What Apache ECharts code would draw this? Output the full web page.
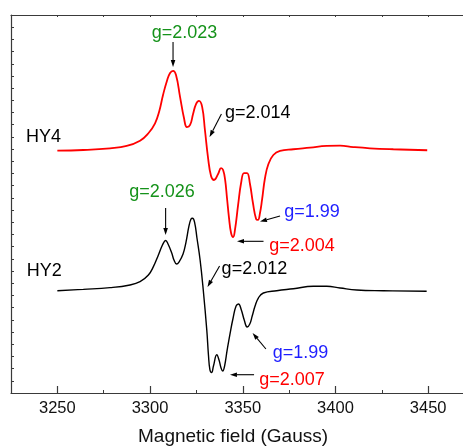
<!DOCTYPE html>
<html>
<head>
<meta charset="utf-8">
<script src="https://cdn.jsdelivr.net/npm/echarts@6/dist/echarts.min.js"></script>
<style>
  html, body { margin: 0; padding: 0; background: #fff; }
  #main { width: 463px; height: 446px; }
</style>
</head>
<body>
<div id="main"></div>
<script>
// magnetic field (Gauss) and intensity (a.u., offset)
var hy4Field = [3250.0, 3264.0, 3278.4, 3287.4, 3294.6, 3299.1, 3302.7, 3305.0, 3307.0, 3309.1,
  3310.8, 3312.4, 3314.0, 3316.2, 3318.3, 3319.9, 3321.6, 3323.2, 3324.8, 3326.4,
  3328.1, 3329.6, 3331.3, 3332.9, 3334.5, 3336.7, 3338.3, 3339.4, 3340.5, 3341.5,
  3342.6, 3343.7, 3344.8, 3345.8, 3347.5, 3349.1, 3350.7, 3352.3, 3353.9, 3355.5,
  3357.2, 3358.2, 3359.3, 3360.4, 3362.0, 3363.8, 3366.5, 3370.1, 3377.3, 3386.3,
  3395.3, 3402.5, 3409.6, 3418.6, 3431.2, 3449.5];
var hy4Signal = [19.87, 19.93, 20.07, 20.26, 20.69, 21.30, 22.12, 23.13, 24.44, 25.59,
  26.24, 26.41, 26.08, 24.27, 22.55, 21.81, 21.98, 22.88, 23.70, 23.95,
  23.46, 21.57, 19.27, 17.80, 17.47, 17.96, 18.45, 18.29, 17.47, 15.99,
  14.35, 13.12, 12.79, 13.37, 15.42, 17.22, 18.04, 18.04, 17.14, 15.58,
  14.27, 14.19, 14.76, 15.83, 17.63, 18.76, 19.52, 19.85, 19.99, 20.12,
  20.26, 20.28, 20.17, 20.07, 19.99, 19.91];

var hy2Field = [3250.0, 3264.0, 3278.4, 3289.2, 3294.6, 3299.1, 3301.8, 3304.5, 3306.2, 3307.5,
  3308.4, 3309.7, 3311.7, 3312.9, 3314.3, 3315.6, 3317.8, 3319.4, 3321.0, 3322.1,
  3322.9, 3324.0, 3325.3, 3327.0, 3328.7, 3330.6, 3331.5, 3332.3, 3333.2, 3334.2,
  3336.0, 3337.2, 3338.3, 3339.2, 3340.2, 3341.6, 3343.2, 3344.8, 3346.4, 3347.7,
  3349.2, 3350.8, 3352.4, 3353.8, 3355.1, 3356.6, 3358.4, 3361.1, 3368.3, 3377.3,
  3388.1, 3395.3, 3402.5, 3411.5, 3425.8, 3449.2];
var hy2Signal = [8.39, 8.50, 8.64, 8.86, 9.13, 9.68, 10.36, 11.32, 11.97, 12.38,
  12.51, 12.22, 11.48, 10.91, 10.58, 10.74, 11.40, 12.38, 13.70, 14.27,
  14.33, 14.02, 12.71, 10.91, 8.45, 5.17, 3.12, 1.89, 1.68, 2.21,
  3.14, 2.71, 2.05, 1.80, 2.21, 3.53, 4.92, 6.15, 7.13, 7.30,
  6.83, 5.99, 5.41, 5.66, 6.31, 7.11, 7.79, 8.20, 8.39, 8.55,
  8.75, 8.75, 8.61, 8.45, 8.39, 8.34];

var xTickLabels = [3250, 3300, 3350, 3400, 3450];

// annotations: text, colour, text anchor (left edge, middle) and arrow tail -> head
var noteText  = ['g=2.023', 'g=2.014', 'g=2.026', 'g=2.012', 'g=1.99', 'g=2.004', 'g=1.99', 'g=2.007', 'HY4', 'HY2'];
var noteColor = ['#15921a', '#000000', '#15921a', '#000000', '#1e1eff', '#ff0000', '#1e1eff', '#ff0000', '#000000', '#000000'];
var noteAt    = [[3300.9, 29.52], [3340.4, 22.94], [3288.8, 16.51], [3338.6, 10.14], [3372.4, 14.87],
                 [3364.3, 12.03], [3366.2, 3.28], [3358.9, 1.09], [3233.1, 21.02], [3233.5, 10.03]];
var arrowFrom = [[3312.4, 28.79], [3338.5, 22.88], [3308.4, 15.17], [3337.5, 10.42], [3370.1, 14.52],
                 [3361.2, 12.44], [3362.5, 3.61], [3356.1, 1.50]];
var arrowTo   = [[3312.4, 26.74], [3332.1, 20.99], [3308.4, 12.96], [3331.0, 8.69], [3359.3, 14.06],
                 [3346.9, 12.44], [3355.3, 4.92], [3343.1, 1.50]];

function pairs(xs, ys) {
  var out = [];
  for (var i = 0; i < xs.length; i++) out.push([xs[i], ys[i]]);
  return out;
}

var myChart = echarts.init(document.getElementById('main'));
var axisColor = '#3a3a3a';
var font = 'Liberation Sans, Arial, sans-serif';

var noteData = noteText.map(function (t, i) { return [noteAt[i][0], noteAt[i][1], i]; });
var arrowData = arrowFrom.map(function (p, i) { return [p[0], p[1], arrowTo[i][0], arrowTo[i][1]]; });

var option = {
  animation: false,
  grid: { left: 11, top: 15, width: 463.5, height: 378, outerBoundsMode: 'none', containLabel: false },
  xAxis: [
    {
      type: 'value', min: 3225, max: 3475, interval: 25, position: 'bottom',
      axisLine: { lineStyle: { color: axisColor, width: 1.2 } },
      axisTick: { inside: true, length: 3, lineStyle: { color: axisColor } },
      axisLabel: { show: false },
      splitLine: { show: false }
    },
    {
      type: 'value', min: 3225, max: 3475, position: 'bottom',
      axisLine: { show: false },
      axisTick: { inside: true, length: 7, customValues: xTickLabels, lineStyle: { color: axisColor, width: 1.2 } },
      axisLabel: { customValues: xTickLabels, margin: 7, color: '#111', fontSize: 16.5, fontFamily: font,
                   formatter: function (v) { return String(v); } },
      splitLine: { show: false }
    },
    {
      type: 'value', min: 3225, max: 3475, interval: 25, position: 'top',
      axisLine: { lineStyle: { color: axisColor, width: 1.2 } },
      axisTick: { inside: true, length: 2, lineStyle: { color: axisColor } },
      axisLabel: { show: false },
      splitLine: { show: false }
    }
  ],
  yAxis: {
    type: 'value', min: 0, max: 31, interval: 1,
    axisLine: { show: true, lineStyle: { color: axisColor, width: 1.2 } },
    axisTick: { show: true, inside: true, length: 3, lineStyle: { color: axisColor } },
    axisLabel: { show: false },
    splitLine: { show: false }
  },
  graphic: [{
    type: 'text', left: 138, top: 427,
    style: { text: 'Magnetic field (Gauss)', fontSize: 19, fontFamily: font, fill: '#111' }
  }],
  series: [
    {
      name: 'HY4', type: 'line', data: pairs(hy4Field, hy4Signal),
      showSymbol: false, smooth: 0.45,
      lineStyle: { color: '#ff0000', width: 1.8 }
    },
    {
      name: 'HY2', type: 'line', data: pairs(hy2Field, hy2Signal),
      showSymbol: false, smooth: 0.45,
      lineStyle: { color: '#000000', width: 1.4 }
    },
    {
      type: 'custom', data: arrowData,
      renderItem: function (params, api) {
        var a = api.coord([api.value(0), api.value(1)]);
        var b = api.coord([api.value(2), api.value(3)]);
        var dx = b[0] - a[0], dy = b[1] - a[1];
        var len = Math.sqrt(dx * dx + dy * dy);
        var ux = dx / len, uy = dy / len;
        var hl = 7, hw = 2.3;
        var base = [b[0] - ux * hl, b[1] - uy * hl];
        return {
          type: 'group',
          children: [
            { type: 'line', shape: { x1: a[0], y1: a[1], x2: base[0], y2: base[1] },
              style: { stroke: '#000', lineWidth: 1.1 } },
            { type: 'polygon', shape: { points: [b,
                [base[0] - uy * hw, base[1] + ux * hw], [base[0] + uy * hw, base[1] - ux * hw]] },
              style: { fill: '#000' } }
          ]
        };
      }
    },
    {
      type: 'custom', data: noteData,
      renderItem: function (params, api) {
        var p = api.coord([api.value(0), api.value(1)]);
        var i = api.value(2);
        return {
          type: 'text', x: p[0], y: p[1],
          style: { text: noteText[i], fill: noteColor[i], fontSize: 18, fontFamily: font,
                   align: 'left', verticalAlign: 'middle' }
        };
      }
    }
  ]
};
myChart.setOption(option);
</script>
</body>
</html>
